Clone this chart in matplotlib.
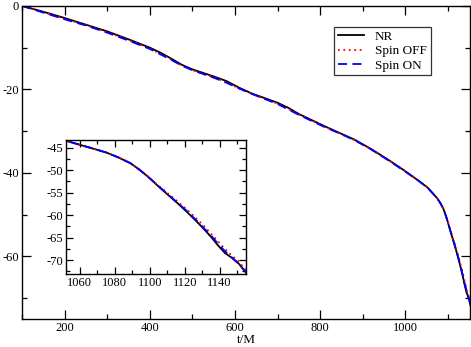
#!/usr/bin/env python3

import matplotlib
matplotlib.use("Agg")
from matplotlib import pyplot as plt
from matplotlib.ticker import MultipleLocator

plt.rcParams["font.family"] = ["Liberation Serif", "DejaVu Serif"]
plt.rcParams["font.size"] = 9
plt.rcParams["axes.unicode_minus"] = False

# time axis (t/M) and the three phase curves
T = [100, 150, 200, 250, 300, 350, 400, 425, 450, 475, 500, 550, 580, 610,
     640, 670, 700, 725, 750, 777, 810, 847, 880, 920, 965, 1000, 1030,
     1052, 1060, 1068, 1075, 1082, 1089, 1094, 1099, 1106, 1111, 1116,
     1121, 1126, 1131, 1135, 1139, 1143, 1147, 1151, 1155.6]

NR = [0, -1.4, -2.9, -4.5, -6.1, -8.0, -10.0, -11.2, -12.6, -14.1, -15.2,
      -16.9, -18.0, -19.6, -21.0, -22.1, -23.2, -24.4, -25.9, -27.2, -28.8,
      -30.5, -32.0, -34.3, -37.2, -39.6, -41.8,
      -43.5, -44.4, -45.3, -46.1, -47.2, -48.5, -49.9, -51.5, -54.0, -55.7,
      -57.4, -59.2, -61.1, -63.1, -64.8, -66.7, -68.4, -69.5, -70.8, -73.0]

SPIN_OFF = [0, -1.5, -3.1, -4.6, -6.3, -8.2, -10.2, -11.5, -12.8, -14.3,
            -15.4, -17.1, -18.3, -19.8, -21.1, -22.3, -23.4, -24.7, -26.0,
            -27.3, -28.9, -30.6, -32.1, -34.4, -37.2, -39.6, -41.8,
            -43.5, -44.4, -45.3, -46.1, -47.2, -48.5, -49.9, -51.4, -53.8,
            -55.4, -57.0, -58.7, -60.5, -62.4, -64.1, -65.8, -67.5, -69.0,
            -70.3, -72.5]

SPIN_ON = [0, -1.6, -3.2, -4.7, -6.4, -8.3, -10.3, -11.6, -12.9, -14.3,
           -15.4, -17.2, -18.4, -19.8, -21.1, -22.3, -23.5, -24.8, -26.1,
           -27.4, -29.0, -30.6, -32.1, -34.4, -37.3, -39.7, -41.8,
           -43.5, -44.4, -45.3, -46.1, -47.2, -48.5, -49.9, -51.5, -53.9,
           -55.6, -57.3, -59.0, -60.9, -62.9, -64.5, -66.3, -68.0, -69.4,
           -70.8, -73.0]

fig = plt.figure(figsize=(4.71, 3.47), dpi=100)
ax = fig.add_axes([0.0467, 0.0807, 0.9513, 0.9023])


def style(a, major_len, minor_len):
	a.tick_params(which="both", direction="in", top=True, right=True, width=0.9, pad=2)
	a.tick_params(which="major", length=major_len)
	a.tick_params(which="minor", length=minor_len)
	for s in a.spines.values():
		s.set_linewidth(1.0)


def draw(a):
	a.plot(T, NR, color="black", lw=1.3, label="NR")
	a.plot(T, SPIN_OFF, color="red", lw=1.3, ls=(0, (1, 2)), label="Spin OFF")
	a.plot(T, SPIN_ON, color="blue", lw=1.3, ls=(0, (5, 3)), label="Spin ON")


draw(ax)
ax.set_xlim(100, 1152)
ax.set_ylim(-75, 0)
ax.xaxis.set_major_locator(MultipleLocator(200))
ax.xaxis.set_minor_locator(MultipleLocator(100))
ax.yaxis.set_major_locator(MultipleLocator(20))
ax.yaxis.set_minor_locator(MultipleLocator(10))
style(ax, 6.5, 3.5)
ax.set_xlabel("t/M", labelpad=0, fontsize=9.5)

leg = ax.legend(loc="upper left", bbox_to_anchor=(0.696, 0.933), frameon=True,
	fancybox=False, edgecolor="black", handlelength=2.0, borderpad=0.3,
	labelspacing=0.15, handletextpad=0.8, borderaxespad=0, fontsize=9.5)
leg.get_frame().set_linewidth(0.9)

ins = fig.add_axes([0.140, 0.210, 0.382, 0.387])
draw(ins)
ins.set_xlim(1052, 1155)
ins.set_ylim(-73.1, -43.3)
ins.xaxis.set_major_locator(MultipleLocator(20))
ins.xaxis.set_minor_locator(MultipleLocator(10))
ins.yaxis.set_major_locator(MultipleLocator(5))
ins.yaxis.set_minor_locator(MultipleLocator(2.5))
style(ins, 5, 3)

plt.savefig("out.png", dpi=100)
